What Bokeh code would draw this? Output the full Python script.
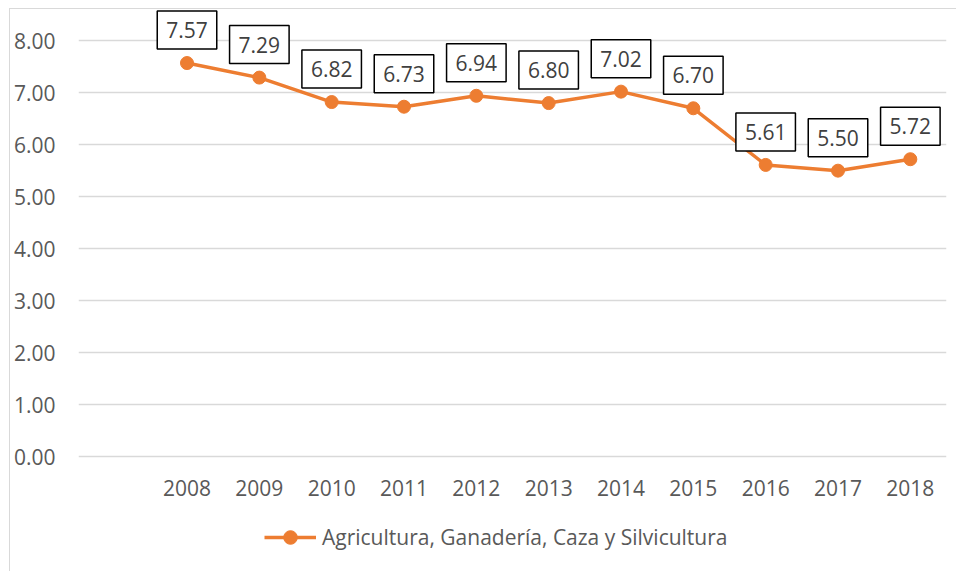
from bokeh.plotting import figure
from bokeh.models import (ColumnDataSource, Range1d, FixedTicker,
                          Legend, LegendItem, PrintfTickFormatter)
from bokeh.core.properties import value
from bokeh.embed import file_html
from bokeh.resources import INLINE

# ---- data ----
years = ["2008", "2009", "2010", "2011", "2012", "2013", "2014", "2015", "2016", "2017", "2018"]
values = [7.57, 7.29, 6.82, 6.73, 6.94, 6.80, 7.02, 6.70, 5.61, 5.50, 5.72]
y_ticks = [0, 1, 2, 3, 4, 5, 6, 7, 8]
series_name = "Agricultura, Ganadería, Caza y Silvicultura"

# category slots: slot 0 is an empty category, years occupy slots 1..11
xs = list(range(1, len(years) + 1))

FONT = "Open Sans"
ORANGE = "#ED7D31"
GRAY_TXT = "#595959"

p = figure(width=947, height=563, output_backend="svg", toolbar_location=None,
           x_range=Range1d(-0.5, len(years) + 0.5), y_range=Range1d(-2.23, 8.6),
           min_border_left=68, min_border_right=11, min_border_top=0,
           min_border_bottom=0)
p.outline_line_color = None
p.background_fill_color = "white"
p.border_fill_color = "white"
p.styles = {"margin-left": "9px", "margin-top": "8px",
            "border-left": "1px solid #d9d9d9", "border-top": "1px solid #d9d9d9"}

# grid
yt = FixedTicker(ticks=y_ticks)
p.xgrid.visible = False
p.ygrid.ticker = yt
p.ygrid.grid_line_color = "#d9d9d9"
p.ygrid.grid_line_width = 1.5

# y axis
p.yaxis.ticker = yt
p.yaxis.formatter = PrintfTickFormatter(format="%.2f")
p.yaxis.axis_line_color = None
p.yaxis.major_tick_line_color = None
p.yaxis.minor_tick_line_color = None
p.yaxis.major_tick_out = 0
p.yaxis.major_tick_in = 0
p.yaxis.minor_tick_out = 0
p.yaxis.major_label_standoff = 23
p.yaxis.major_label_text_font = FONT
p.yaxis.major_label_text_font_size = "21px"
p.yaxis.major_label_text_color = GRAY_TXT

# x axis, pinned at y = 0
p.xaxis.fixed_location = 0
p.xaxis.ticker = FixedTicker(ticks=xs)
p.xaxis.major_label_overrides = {x: y for x, y in zip(xs, years)}
p.xaxis.axis_line_color = None
p.xaxis.major_tick_line_color = None
p.xaxis.minor_tick_line_color = None
p.xaxis.major_tick_out = 0
p.xaxis.major_tick_in = 0
p.xaxis.minor_tick_out = 0
p.xaxis.major_label_standoff = 23
p.xaxis.major_label_text_font = FONT
p.xaxis.major_label_text_font_size = "21px"
p.xaxis.major_label_text_color = GRAY_TXT

src = ColumnDataSource(dict(x=xs, y=values, txt=[f"{v:.2f}" for v in values]))

r_line = p.line("x", "y", source=src, line_color=ORANGE, line_width=3.5)
r_pts = p.scatter("x", "y", source=src, size=13, fill_color=ORANGE, line_color=ORANGE)

p.text("x", "y", text="txt", source=src, y_offset=-33,
       text_align="center", text_baseline="middle",
       text_font=value(FONT), text_font_size="21px", text_color="#404040",
       background_fill_color="white", border_line_color="black",
       border_line_width=1.5,
       padding=dict(left=9, right=9, top=11, bottom=11))

legend = Legend(items=[LegendItem(label=series_name, renderers=[r_line, r_pts])],
                location=(186, 18), orientation="horizontal",
                glyph_width=52, glyph_height=34, label_standoff=6,
                padding=0, margin=0, border_line_color=None,
                background_fill_alpha=0,
                label_text_font=FONT, label_text_font_size="21px",
                label_text_color=GRAY_TXT)
p.add_layout(legend)

open("out.html", "w").write(file_html(p, INLINE))
